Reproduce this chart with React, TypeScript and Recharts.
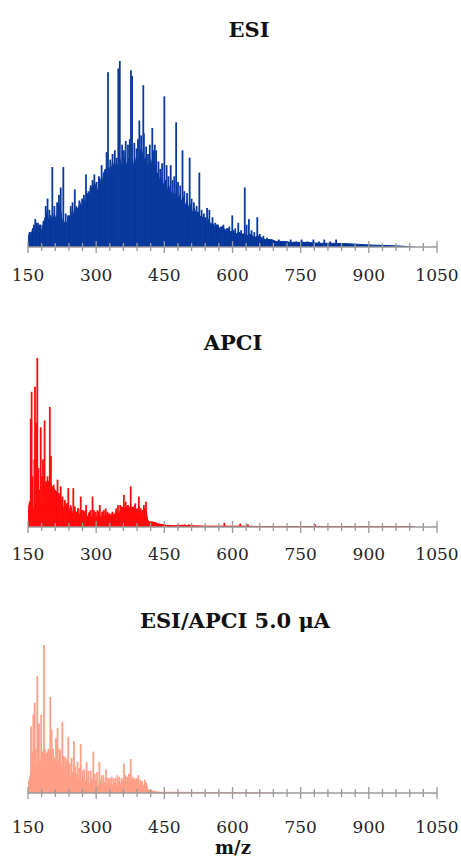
import { ComposedChart, Area, Bar, XAxis, YAxis } from "recharts";

// axis ticks (m/z)
const tickValues = [
  150, 180, 210, 240, 270, 300, 330, 360, 390, 420, 450, 480, 510, 540, 570, 600,
  630, 660, 690, 720, 750, 780, 810, 840, 870, 900, 930, 960, 990, 1020, 1050
];
const labelValues = [150, 300, 450, 600, 750, 900, 1050];

// ESI – dense background (envelope) and resolved peaks, relative intensity %
const esiEnvMz = [
  150, 153, 156, 160, 164, 168, 172, 176, 180, 184, 188, 192, 196, 200, 204, 208, 212, 216, 220, 224,
  228, 232, 236, 240, 244, 248, 252, 256, 260, 264, 268, 272, 276, 280, 284, 288, 292, 296, 300, 304,
  308, 312, 316, 320, 324, 328, 332, 336, 340, 344, 348, 352, 356, 360, 364, 368, 372, 376, 380, 384,
  388, 392, 396, 400, 404, 408, 412, 416, 420, 424, 428, 432, 436, 440, 444, 448, 452, 456, 460, 464,
  468, 472, 476, 480, 484, 488, 492, 496, 500, 504, 508, 512, 516, 520, 524, 528, 532, 536, 540, 544,
  548, 552, 556, 560, 566, 572, 578, 584, 590, 596, 602, 608, 614, 620, 626, 632, 640, 648, 656, 664,
  672, 684, 696, 710, 730, 760, 790, 820, 850, 880, 910, 940, 970, 1000
];
const esiEnvInt = [
  4, 8, 5, 10, 7, 13, 9, 12, 8, 13, 16, 19, 13, 17, 12, 18, 14, 21, 23, 16,
  11, 14, 13, 17, 16, 20, 15, 22, 20, 24, 21, 26, 23, 29, 25, 33, 29, 35, 32, 30,
  37, 32, 39, 42, 37, 43, 39, 46, 41, 45, 43, 48, 42, 50, 44, 45, 48, 42, 47, 41,
  48, 45, 51, 53, 45, 48, 42, 45, 47, 41, 46, 39, 40, 35, 37, 33, 36, 30, 33, 28,
  30, 26, 29, 25, 28, 24, 27, 22, 25, 20, 23, 18, 21, 17, 19, 16, 17, 14, 16, 13,
  15, 12, 13, 11, 12, 10, 11, 9, 10, 8, 9, 7, 8, 7, 7, 6, 7, 5, 6, 5,
  4, 4, 3, 3, 2.5, 2.5, 2, 2, 1.8, 1.4, 1, 0.8, 0.5, 0
];
const esiPeakMz = [
  156, 163, 166, 172, 178, 184, 189, 193, 197, 203.5, 208, 214, 218, 222, 227.7, 233, 238, 244, 248, 253,
  258, 263, 269, 273, 277.6, 283, 288, 292, 296, 301, 306, 312, 317, 323, 326, 331, 336, 341, 345, 348.7,
  352, 357, 361, 365, 370, 374, 376.6, 379, 384, 389, 392, 395, 399, 403.7, 405, 410, 414, 418, 423.5, 426,
  429, 432, 437, 441, 445, 450, 455, 459, 464, 468, 472, 476, 480, 485, 490, 494, 500, 505.7, 510, 515,
  521, 527, 532, 537, 544, 549, 556, 562, 568, 575, 580, 587, 593, 599.5, 606, 612.7, 619, 627, 631, 636,
  642, 648, 654.5, 660, 668, 676, 688, 702, 715, 728, 740, 752, 765, 778, 790, 802, 815, 828
];
const esiPeakInt = [
  8, 12, 15, 13, 12, 14, 22, 26, 20, 43, 22, 24, 28, 32, 43, 18, 17, 22, 24, 31,
  20, 25, 26, 28, 39, 30, 33, 36, 39, 35, 38, 44, 40, 51, 94, 47, 50, 52, 48, 96,
  100, 55, 52, 57, 55, 58, 95, 92, 56, 53, 58, 68, 60, 87, 61, 54, 50, 55, 64, 52,
  55, 52, 46, 42, 45, 81, 44, 38, 44, 36, 38, 67, 35, 33, 52, 30, 29, 48, 26, 24,
  22, 40, 20, 18, 21, 20, 16, 13, 12, 11, 12, 10, 11, 17, 10, 13, 9, 32, 12, 15,
  9, 8, 16, 7, 6, 5, 4, 4, 3, 4, 3, 4, 3, 4, 3, 4, 3, 4
];

// APCI
const apciEnvMz = [
  150, 153, 156, 159, 162, 165, 168, 171, 174, 177, 180, 183, 186, 189, 192, 195, 198, 201, 204, 207,
  210, 213, 216, 219, 222, 225, 228, 231, 234, 237, 240, 244, 248, 252, 256, 260, 264, 268, 272, 276,
  280, 285, 290, 295, 300, 305, 310, 315, 320, 325, 330, 335, 340, 345, 350, 355, 360, 365, 370, 375,
  380, 385, 390, 395, 400, 405, 410, 413, 418, 425, 435, 445, 455, 470, 490, 510, 540, 580, 620, 660,
  700, 800, 900, 1000
];
const apciEnvInt = [
  5, 15, 10, 18, 8, 14, 9, 16, 10, 21, 11, 23, 13, 25, 15, 27, 17, 25, 14, 23,
  13, 21, 12, 19, 11, 17, 9, 15, 8, 14, 8, 13, 7, 12, 6, 11, 6, 10, 5, 10,
  5, 9, 5, 10, 5, 9, 5, 9, 5, 9, 5, 8, 6, 10, 7, 12, 8, 13, 9, 12,
  8, 13, 8, 12, 7, 11, 10, 4, 3, 3, 2, 1.5, 1, 0.8, 1, 0.8, 0.5, 0.5, 0.5, 0.3,
  0.3, 0.3, 0.3, 0.2
];
const apciPeakMz = [
  153, 156, 158, 160, 164, 165.4, 168, 170.5, 173, 175, 178, 181, 183, 185, 186.5, 190, 193, 195.8, 198, 200.5,
  203, 206.5, 210, 215, 218, 222, 226, 231, 235, 238.7, 244, 249.7, 253, 257, 261, 266, 271, 274, 278, 285,
  288, 292, 295, 299, 303, 308, 313, 317, 321, 326, 330, 336, 340, 344, 348, 353, 357, 361, 365, 370,
  373, 376, 379, 383, 386, 390, 394, 398, 402, 405, 409.6, 412, 416, 430, 480, 495, 505, 582, 617, 634,
  782
];
const apciPeakInt = [
  13, 64, 80, 30, 40, 83, 62, 100, 35, 22, 59, 30, 40, 30, 63, 27, 30, 26, 71, 42,
  24, 25, 22, 28, 20, 24, 18, 16, 14, 23, 12, 23, 12, 9, 11, 18, 10, 9, 13, 8,
  10, 18, 9, 9, 10, 13, 9, 10, 11, 8, 8, 9, 8, 11, 13, 13, 12, 19, 15, 13,
  12, 24, 12, 12, 14, 11, 18, 11, 10, 13, 15, 6, 3, 3, 1.5, 1.5, 1.5, 2.5, 2, 1.5,
  1.5
];

// ESI/APCI 5.0 µA
const mixEnvMz = [
  150, 153, 156, 159, 162, 165, 168, 171, 174, 177, 180, 183, 186, 189, 192, 195, 198, 201, 204, 207,
  210, 213, 216, 219, 222, 225, 228, 231, 234, 237, 240, 244, 248, 252, 256, 260, 264, 268, 272, 276,
  280, 285, 290, 295, 300, 305, 310, 315, 320, 325, 330, 335, 340, 345, 350, 355, 360, 365, 370, 375,
  380, 385, 390, 395, 400, 405, 410, 414, 420, 430, 440, 480, 550, 650, 700
];
const mixEnvInt = [
  3, 9, 14, 8, 17, 11, 20, 13, 23, 15, 27, 17, 25, 16, 27, 18, 29, 19, 26, 16,
  24, 15, 22, 13, 21, 12, 19, 11, 17, 10, 16, 9, 14, 8, 13, 7, 12, 6, 11, 6,
  10, 5, 10, 5, 9, 4, 9, 4, 8, 4, 7, 4, 7, 4, 8, 5, 9, 5, 9, 5,
  10, 5, 9, 4, 8, 4, 7, 2, 1.5, 1, 0.5, 0.5, 0.3, 0.2, 0
];
const mixPeakMz = [
  151, 153, 156.6, 159.5, 161.7, 164.7, 167, 170.5, 172, 174, 179, 182, 185, 187, 189.6, 193, 195, 199, 202, 205,
  209.4, 211.6, 215, 219, 221, 225.6, 229, 233, 236, 238.7, 242, 246, 251, 254, 259, 263, 266, 270, 274, 279,
  283, 288, 293.7, 297, 302, 307, 312, 316, 321.6, 326, 330, 334, 338, 342, 346.5, 351, 356, 361, 364, 368,
  372, 376, 380, 384, 388, 392.7, 397, 401, 407, 412, 420, 428
];
const mixPeakInt = [
  8, 9, 45, 28, 53, 61, 30, 79, 46, 47, 53, 28, 100, 30, 27, 28, 30, 65, 43, 30,
  24, 37, 44, 30, 29, 48, 25, 24, 22, 38, 20, 24, 35, 18, 21, 17, 33, 15, 16, 21,
  15, 15, 28, 13, 14, 21, 12, 12, 16, 10, 10, 11, 10, 10, 12, 11, 10, 20, 12, 11,
  13, 23, 11, 10, 10, 12, 9, 8, 9, 4, 2, 1.5
];

type Row = { mz: number; env?: number; peak?: number };

function buildRows(envMz: number[], envInt: number[], peakMz: number[], peakInt: number[]): Row[] {
  const rows = new Map<number, Row>();
  envMz.forEach((m, i) => {
    const r = rows.get(m) ?? { mz: m };
    r.env = envInt[i];
    rows.set(m, r);
  });
  peakMz.forEach((m, i) => {
    const r = rows.get(m) ?? { mz: m };
    r.peak = peakInt[i];
    rows.set(m, r);
  });
  return [...rows.values()].sort((a, b) => a.mz - b.mz);
}

const SERIF = "'DejaVu Serif', 'Liberation Serif', serif";

function AxisTick(props: any) {
  const { x, y, payload, labelDy } = props;
  const v = payload.value;
  const major = labelValues.includes(v);
  const h = major ? 6 : 4;
  return (
    <g>
      <line x1={x} x2={x} y1={y - h} y2={y + h} stroke="#9a9a9a" strokeWidth={1.3} />
      {major && (
        <text x={x} y={y + labelDy} textAnchor="middle" fontFamily={SERIF} fontSize={17} fill="#262626">
          {v}
        </text>
      )}
    </g>
  );
}

// thin spectral line centred on the bar's m/z position
function PeakLine(props: any) {
  const { x, y, width, height, fill } = props;
  if (height == null || !(height > 0)) return <g />;
  return <rect x={x + width / 2 - 0.9} y={y} width={1.8} height={height} fill={fill} />;
}

interface PanelProps {
  rows: Row[];
  color: string;
  peakColor: string;
  top: number;
  height: number;
  marginTop: number;
  marginBottom: number;
  labelDy: number;
}

function SpectrumPanel({ rows, color, peakColor, top, height, marginTop, marginBottom, labelDy }: PanelProps) {
  return (
    <div style={{ position: "absolute", left: 0, top }}>
      <ComposedChart
        width={461}
        height={height}
        data={rows}
        margin={{ top: marginTop, right: 24, left: 28, bottom: marginBottom }}
      >
        <XAxis
          dataKey="mz"
          type="number"
          domain={[150, 1050]}
          ticks={tickValues}
          interval={0}
          height={30}
          tickSize={0}
          tickMargin={0}
          axisLine={{ stroke: "#9a9a9a", strokeWidth: 1.5 }}
          tickLine={false}
          tick={<AxisTick labelDy={labelDy} />}
          allowDataOverflow
        />
        <YAxis hide domain={[0, 100]} allowDataOverflow width={0} />
        <Area
          dataKey="env"
          type="linear"
          stroke={color}
          strokeWidth={1}
          fill={color}
          fillOpacity={1}
          connectNulls
          dot={false}
          activeDot={false}
          isAnimationActive={false}
        />
        <Bar dataKey="peak" fill={peakColor} shape={<PeakLine />} isAnimationActive={false} />
      </ComposedChart>
    </div>
  );
}

const esiRows = buildRows(esiEnvMz, esiEnvInt, esiPeakMz, esiPeakInt);
const apciRows = buildRows(apciEnvMz, apciEnvInt, apciPeakMz, apciPeakInt);
const mixRows = buildRows(mixEnvMz, mixEnvInt, mixPeakMz, mixPeakInt);

export default function App() {
  return (
    <div style={{ position: "absolute", left: 0, top: 0, width: 461, height: 859, background: "#fff" }}>
      <SpectrumPanel rows={esiRows} color="#003399" peakColor="#0a3a9e" top={0} height={290}
        marginTop={61} marginBottom={13} labelDy={34} />
      <SpectrumPanel rows={apciRows} color="#ff0000" peakColor="#ff0d0d" top={290} height={280}
        marginTop={68} marginBottom={13} labelDy={33} />
      <SpectrumPanel rows={mixRows} color="#ff9980" peakColor="#ff9f88" top={570} height={289}
        marginTop={75} marginBottom={36} labelDy={40} />
      <svg width={461} height={859} style={{ position: "absolute", left: 0, top: 0, pointerEvents: "none" }}>
        <g fontFamily={SERIF} fontWeight="bold" fontSize={21} fill="#111" textAnchor="middle">
          <text x={249} y={37}>ESI</text>
          <text x={233} y={350}>APCI</text>
          <text x={235} y={628}>ESI/APCI 5.0 μA</text>
          <text x={233} y={854} fontSize={18}>m/z</text>
        </g>
      </svg>
    </div>
  );
}
